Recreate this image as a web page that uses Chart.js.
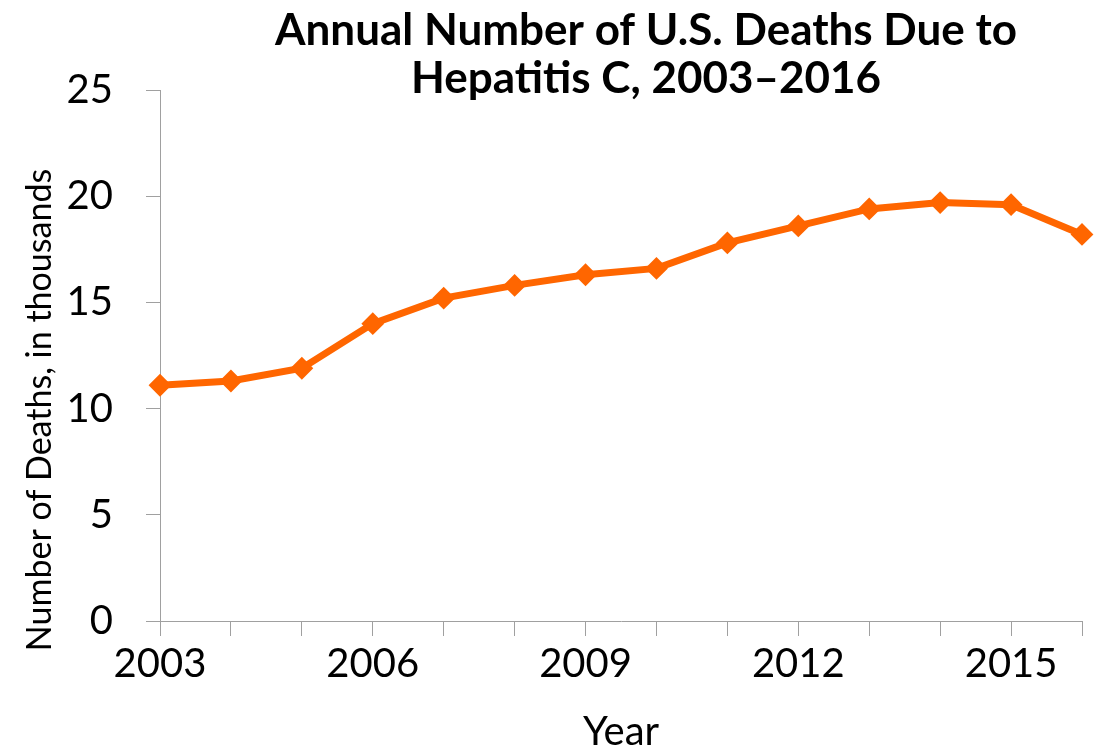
<!DOCTYPE html>
<html>
<head>
<meta charset="utf-8">
<script src="https://cdn.jsdelivr.net/npm/chart.js@4/dist/chart.umd.min.js"></script>
<style>
  html, body { margin: 0; padding: 0; background: #ffffff; }
  #wrap { width: 1104px; height: 752px; }
</style>
</head>
<body>
<div id="wrap"><canvas id="chart" width="1104" height="752"></canvas></div>
<script>
// Hepatitis C deaths in the U.S., thousands per year
const years = ['2003','2004','2005','2006','2007','2008','2009','2010','2011','2012','2013','2014','2015','2016'];
const deathsThousands = [11.1, 11.3, 11.9, 14.0, 15.2, 15.8, 16.3, 16.6, 17.8, 18.6, 19.4, 19.7, 19.6, 18.2];
const yTicks = [0, 5, 10, 15, 20, 25];
const titleLines = ['Annual Number of U.S. Deaths Due to', 'Hepatitis C, 2003–2016'];
const yAxisTitle = 'Number of Deaths, in thousands';

const FONT = 'Lato, "Open Sans", sans-serif';
const AXIS_GRAY = '#a0a0a0';
const ORANGE = '#ff6600';

// Two-line bold heading above the plot, plus the rotated y-axis caption
const headingPlugin = {
  id: 'heading',
  afterDraw(chart) {
    const ctx = chart.ctx;
    ctx.save();
    ctx.fillStyle = '#000';
    ctx.font = 'bold 44px ' + FONT;
    ctx.textAlign = 'center';
    ctx.textBaseline = 'alphabetic';
    titleLines.forEach((line, i) => ctx.fillText(line, 646, 45 + i * 48));

    ctx.translate(40, 410);
    ctx.rotate(-Math.PI / 2);
    ctx.font = '34px ' + FONT;
    ctx.textBaseline = 'middle';
    ctx.fillText(yAxisTitle, 0, 0);
    ctx.restore();
  }
};

new Chart(document.getElementById('chart'), {
  type: 'line',
  data: {
    labels: years,
    datasets: [{
      data: deathsThousands,
      borderColor: ORANGE,
      backgroundColor: ORANGE,
      borderWidth: 7,
      tension: 0,
      pointStyle: 'rectRot',
      pointRadius: 10,
      pointBorderWidth: 2,
      pointBackgroundColor: ORANGE,
      pointBorderColor: ORANGE,
      clip: false
    }]
  },
  options: {
    responsive: false,
    animation: false,
    layout: { padding: { top: 90, right: 22, bottom: 0, left: 0 } },
    plugins: {
      legend: { display: false },
      title: { display: false },
      tooltip: { enabled: false }
    },
    scales: {
      x: {
        type: 'category',
        offset: false,
        afterFit(scale) { scale.height = 131; },
        grid: {
          drawOnChartArea: false,
          drawTicks: true,
          tickLength: 15,
          color: AXIS_GRAY,
          lineWidth: 1
        },
        border: { display: true, color: AXIS_GRAY, width: 1 },
        ticks: {
          autoSkip: false,
          maxRotation: 0,
          padding: 4,
          color: '#000',
          font: { family: FONT, size: 40 },
          callback(value, index) { return index % 3 === 0 ? years[index] : ''; }
        },
        title: {
          display: true,
          text: 'Year',
          color: '#000',
          font: { family: FONT, size: 40, lineHeight: 1 },
          padding: 0
        }
      },
      y: {
        min: 0,
        max: 25,
        afterFit(scale) { scale.width = 160; },
        afterBuildTicks(scale) { scale.ticks = yTicks.map(v => ({ value: v })); },
        grid: {
          drawOnChartArea: false,
          drawTicks: true,
          tickLength: 14,
          color: AXIS_GRAY,
          lineWidth: 1
        },
        border: { display: true, color: AXIS_GRAY, width: 1 },
        ticks: {
          padding: 33,
          color: '#000',
          font: { family: FONT, size: 40 }
        }
      }
    }
  },
  plugins: [headingPlugin]
});
</script>
</body>
</html>
